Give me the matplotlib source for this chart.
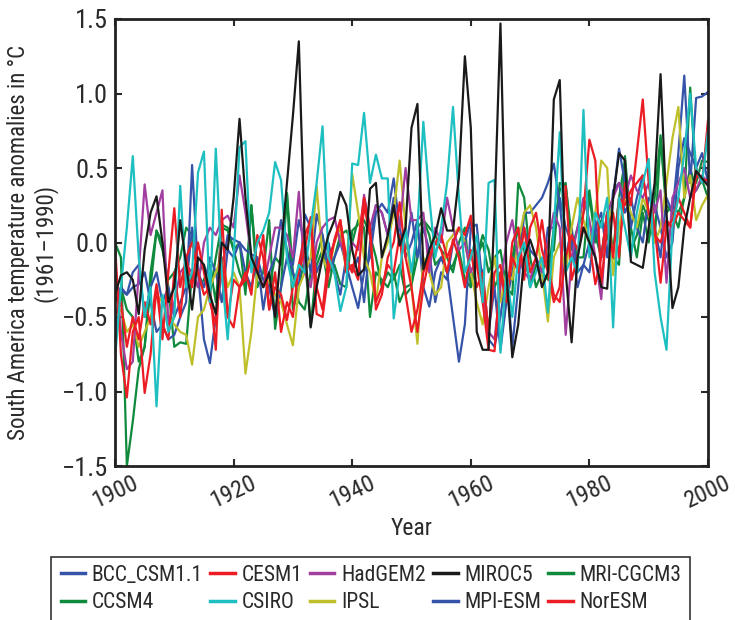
import matplotlib
matplotlib.use("Agg")
import matplotlib.pyplot as plt
from matplotlib.font_manager import fontManager
from matplotlib.patches import Rectangle

years = list(range(1900, 2001))

bcc_csm = [
    -0.30, -0.32, -0.35, -0.30, -0.28, -0.20, -0.40, -0.60, -0.55, -0.65,
    -0.62, -0.50, -0.40, 0.52, -0.20, -0.65, -0.81, -0.50, -0.20, 0.05,
    0.02, 0.00, -0.05, -0.08, -0.10, -0.25, -0.30, -0.50, -0.30, -0.10,
    -0.15, 0.15, 0.00, -0.20, 0.19, 0.05, -0.20, -0.10, 0.00, -0.15,
    -0.30, -0.44, -0.20, -0.10, 0.20, 0.26, 0.20, 0.43, 0.10, -0.10,
    0.00, 0.15, -0.30, -0.43, -0.20, -0.10, -0.20, -0.50, -0.80, -0.55,
    0.10, 0.12, -0.30, -0.65, -0.70, -0.50, -0.20, -0.70, -0.30, 0.20,
    0.20, 0.25, 0.30, 0.40, 0.53, 0.25, -0.10, 0.10, -0.20, -0.15,
    0.00, 0.15, -0.10, 0.20, 0.30, 0.63, 0.40, 0.10, 0.30, 0.45,
    0.20, 0.10, -0.10, 0.30, 0.20, 0.60, 1.12, 0.40, 0.97, 0.98, 1.01]

cesm1 = [
    0.00, -0.75, -1.04, -0.60, -0.50, -1.01, -0.75, -0.30, -0.65, -0.20,
    0.23, -0.30, -0.10, 0.00, -0.20, -0.35, -0.30, -0.72, 0.22, -0.50,
    -0.57, -0.30, -0.20, -0.35, 0.05, -0.10, -0.45, -0.20, -0.60, -0.40,
    -0.50, -0.15, 0.05, 0.15, -0.48, -0.50, -0.20, 0.02, 0.15, -0.10,
    -0.20, 0.00, 0.30, 0.10, -0.45, -0.35, -0.10, 0.00, 0.27, -0.10,
    -0.30, -0.60, -0.30, -0.10, 0.00, 0.05, -0.10, 0.00, 0.10, 0.05,
    0.18, -0.15, -0.40, -0.72, -0.73, -0.20, -0.40, 0.00, 0.10, -0.25,
    0.10, 0.20, -0.05, -0.20, -0.40, -0.30, 0.38, -0.25, -0.10, 0.20,
    0.69, 0.55, -0.28, 0.10, 0.20, -0.10, 0.40, 0.25, 0.60, 0.96,
    0.40, 0.10, -0.27, 0.10, 0.15, 0.30, 0.20, 0.10, 0.50, 0.40, 0.82]

hadgem2 = [
    -0.10, -0.60, -0.85, -0.80, -0.20, 0.39, 0.05, 0.20, 0.35, -0.55,
    -0.40, -0.20, -0.15, -0.20, -0.30, 0.00, 0.10, 0.05, 0.15, 0.18,
    0.10, 0.45, 0.20, -0.10, -0.20, -0.30, -0.10, 0.10, 0.10, 0.05,
    -0.10, 0.34, -0.20, -0.30, 0.00, 0.10, 0.15, 0.17, 0.00, -0.10,
    0.00, -0.05, 0.32, 0.10, 0.25, 0.20, 0.05, 0.25, 0.10, 0.50,
    0.15, 0.15, 0.20, -0.20, 0.10, 0.00, 0.30, 0.10, -0.05, 0.00,
    -0.20, -0.10, -0.30, -0.60, -0.65, -0.30, 0.00, 0.15, -0.10, -0.20,
    -0.25, -0.10, -0.20, 0.00, 0.20, 0.10, -0.62, -0.10, 0.10, 0.30,
    0.15, -0.10, -0.38, 0.20, 0.30, 0.40, 0.30, 0.45, 0.35, 0.30,
    0.40, 0.20, 0.35, -0.27, 0.30, 0.40, 0.50, 0.30, 0.35, 0.45, 0.40]

miroc5 = [
    -0.35, -0.22, -0.20, -0.25, -0.48, -0.05, 0.20, 0.31, 0.00, -0.40,
    -0.30, 0.15, -0.15, -0.45, -0.10, -0.15, -0.35, -0.48, 0.00, -0.05,
    0.30, 0.83, 0.30, -0.10, -0.20, -0.30, -0.20, -0.50, -0.05, 0.40,
    0.85, 1.35, 0.00, -0.57, -0.30, -0.10, 0.05, 0.15, 0.34, 0.25,
    -0.05, -0.22, -0.18, 0.36, 0.40, -0.10, 0.05, 0.25, -0.02, 0.10,
    0.77, 0.93, -0.18, -0.05, 0.05, 0.23, 0.08, 0.08, 0.44, 1.25,
    0.77, -0.60, -0.72, -0.72, 0.20, 1.47, -0.20, -0.77, -0.55, -0.10,
    0.02, -0.10, -0.30, -0.20, 0.96, 1.09, -0.20, -0.67, -0.10, 0.10,
    0.00, -0.10, -0.30, -0.31, 0.30, 0.60, 0.55, -0.13, -0.15, -0.17,
    0.10, 0.40, 1.13, 0.20, -0.44, -0.30, 0.10, 0.30, 0.48, 0.43, 0.38]

mri_cgcm3 = [
    -0.40, -0.30, -0.45, -0.50, -0.80, -0.70, -0.20, 0.08, -0.05, -0.25,
    -0.20, -0.10, 0.10, 0.05, -0.20, -0.15, -0.35, -0.10, 0.12, 0.10,
    -0.05, 0.00, -0.35, 0.25, -0.20, -0.25, -0.30, -0.10, -0.15, 0.33,
    -0.20, -0.40, -0.45, -0.20, -0.10, 0.05, -0.20, -0.15, -0.28, -0.30,
    0.08, 0.12, 0.15, 0.05, -0.10, -0.30, -0.20, -0.25, -0.15, -0.35,
    -0.30, 0.10, 0.15, 0.05, -0.15, -0.10, -0.20, -0.15, -0.05, -0.25,
    -0.30, -0.10, 0.00, -0.20, -0.10, -0.05, -0.30, -0.35, 0.40, 0.30,
    -0.10, -0.30, -0.20, -0.25, 0.10, 0.35, 0.40, -0.05, 0.10, 0.20,
    0.35, 0.05, -0.10, 0.20, -0.05, 0.30, 0.55, -0.05, 0.05, 0.25,
    0.15, 0.00, 0.70, 0.20, 0.25, 0.20, 0.30, 0.50, 0.35, 0.42, 0.30]

ccsm4 = [
    0.00, -0.10, -1.50, -1.20, -0.85, -0.70, -0.30, 0.08, 0.00, -0.30,
    -0.70, -0.67, -0.68, -0.20, -0.30, -0.25, -0.15, -0.40, 0.10, 0.08,
    -0.05, -0.20, -0.30, 0.25, -0.30, -0.20, 0.15, -0.58, -0.30, 0.33,
    -0.45, -0.30, -0.10, -0.56, -0.15, -0.05, -0.30, -0.10, 0.05, 0.08,
    0.00, 0.15, 0.10, -0.50, -0.20, -0.25, -0.30, -0.20, -0.40, -0.30,
    -0.28, -0.10, 0.15, 0.10, 0.05, -0.05, -0.10, -0.20, 0.00, 0.10,
    -0.30, -0.10, 0.05, -0.05, -0.30, -0.20, -0.35, -0.10, 0.10, -0.05,
    -0.30, -0.15, -0.20, -0.10, -0.05, 0.40, 0.38, 0.05, -0.10, -0.10,
    0.32, 0.00, 0.15, 0.05, -0.10, -0.15, 0.58, 0.10, -0.10, 0.20,
    0.00, 0.30, 0.72, 0.25, 0.20, 0.10, 0.30, 1.04, 0.40, 0.55, 0.54]

csiro = [
    -0.78, -0.30, 0.10, 0.58, -0.10, -0.50, -0.30, -1.10, -0.35, -0.60,
    -0.50, 0.38, -0.30, -0.20, 0.47, 0.61, -0.40, 0.63, -0.20, -0.65,
    -0.10, 0.64, 0.68, -0.20, 0.00, 0.08, 0.20, 0.54, 0.42, -0.10,
    -0.30, -0.15, -0.20, 0.10, 0.40, 0.78, -0.10, -0.20, -0.46, -0.30,
    0.53, 0.52, 0.87, 0.40, 0.59, 0.43, 0.43, -0.51, -0.20, 0.10,
    -0.20, 0.10, 0.81, 0.30, -0.10, 0.10, 0.40, 0.91, 0.30, -0.20,
    -0.10, 0.05, -0.40, 0.40, 0.42, -0.74, -0.20, -0.50, -0.10, 0.00,
    -0.30, -0.20, -0.10, -0.47, 0.10, 0.74, -0.20, -0.10, -0.20, 0.89,
    -0.10, 0.20, 0.10, 0.30, -0.57, 0.30, 0.10, -0.10, 0.20, 0.40,
    0.56, -0.20, -0.50, -0.72, 0.10, 0.30, 0.60, 1.00, 0.50, 0.40, 0.75]

ipsl = [
    -0.50, -0.45, -0.60, -0.55, -0.70, -0.60, -0.50, -0.35, -0.40, -0.50,
    -0.55, -0.60, -0.62, -0.82, -0.50, -0.45, -0.30, -0.20, -0.10, -0.30,
    -0.20, -0.30, -0.88, -0.60, -0.20, -0.30, -0.25, -0.35, -0.40, -0.55,
    -0.69, -0.30, -0.20, -0.10, 0.38, -0.10, -0.20, 0.00, 0.10, -0.20,
    0.46, 0.20, -0.10, -0.20, -0.40, -0.10, 0.00, 0.20, 0.55, 0.10,
    -0.30, -0.68, -0.10, -0.20, -0.35, -0.30, 0.00, 0.05, 0.10, 0.00,
    -0.20, -0.40, -0.55, -0.30, -0.10, -0.40, -0.20, -0.25, 0.00, 0.20,
    0.25, 0.10, -0.20, -0.53, -0.10, 0.00, -0.20, 0.10, 0.30, 0.15,
    0.00, 0.20, 0.55, 0.50, -0.22, 0.10, 0.30, 0.20, 0.10, 0.30,
    0.20, 0.00, 0.10, 0.40, 0.70, 0.91, 0.30, 0.45, 0.15, 0.25, 0.32]

mpi_esm = [
    -0.65, -0.30, -0.35, -0.20, -0.15, -0.50, -0.30, -0.20, -0.40, -0.30,
    -0.50, -0.40, -0.30, 0.10, -0.20, -0.30, -0.10, -0.20, -0.40, -0.05,
    -0.10, 0.00, -0.20, -0.30, -0.10, -0.45, -0.20, -0.10, 0.15, -0.05,
    -0.20, -0.30, 0.19, 0.10, -0.20, -0.10, 0.00, -0.20, -0.35, -0.10,
    -0.20, -0.10, -0.40, 0.00, 0.25, 0.20, 0.05, 0.30, 0.00, -0.05,
    0.20, -0.10, 0.10, -0.05, -0.40, -0.20, -0.25, 0.00, 0.10, 0.00,
    0.15, -0.10, -0.20, -0.60, -0.30, -0.72, -0.40, -0.20, 0.00, 0.10,
    -0.05, -0.10, -0.20, 0.10, 0.10, 0.30, 0.10, 0.00, -0.30, -0.15,
    -0.20, 0.10, 0.20, -0.10, 0.35, 0.40, 0.20, 0.30, 0.10, 0.00,
    0.30, 0.25, 0.10, -0.10, 0.00, 0.50, 0.70, 0.60, 0.50, 0.60, 0.40]

noresm = [
    -0.50, -0.40, -0.70, -0.50, -0.65, -0.40, -0.55, -0.28, -0.55, -0.65,
    -0.20, -0.50, -0.10, -0.30, 0.00, -0.20, -0.40, -0.55, -0.10, -0.50,
    -0.25, -0.30, -0.25, -0.10, -0.20, 0.05, -0.45, -0.30, -0.35, -0.52,
    -0.30, -0.20, -0.05, 0.17, -0.30, -0.45, -0.10, 0.00, 0.15, -0.20,
    -0.15, -0.25, 0.25, 0.05, -0.40, -0.30, -0.15, -0.20, 0.05, -0.35,
    -0.60, -0.45, -0.20, -0.10, 0.00, -0.05, -0.20, 0.02, -0.10, -0.30,
    -0.05, -0.30, -0.20, -0.60, -0.20, -0.15, -0.40, -0.10, -0.20, 0.10,
    -0.20, -0.10, 0.15, -0.15, -0.35, -0.40, -0.10, 0.05, -0.05, 0.10,
    0.00, -0.28, -0.10, 0.20, -0.10, 0.30, 0.25, 0.35, 0.40, 0.45,
    0.20, 0.05, 0.00, 0.15, 0.10, 0.20, 0.15, 0.10, 0.45, 0.42, 0.42]

model_names = ["BCC_CSM1.1", "CESM1", "HadGEM2", "MIROC5", "MRI-CGCM3",
               "CCSM4", "CSIRO", "IPSL", "MPI-ESM", "NorESM"]
model_values = [bcc_csm, cesm1, hadgem2, miroc5, mri_cgcm3,
                ccsm4, csiro, ipsl, mpi_esm, noresm]

BLUE = "#3553a8"
RED = "#ec1c24"
PURPLE = "#a23ea0"
BLACK = "#1a1a1a"
GREEN = "#0f8a3c"
CYAN = "#1dbfc0"
OLIVE = "#bfbf2a"
colors = [BLUE, RED, PURPLE, BLACK, GREEN, GREEN, CYAN, OLIVE, BLUE, RED]

avail = {f.name for f in fontManager.ttflist}
fam = "DejaVu Sans"
for cand in ["Liberation Sans Narrow", "Roboto Condensed", "Open Sans Condensed",
             "Liberation Sans", "Roboto"]:
    if cand in avail:
        fam = cand
        break
plt.rcParams["font.family"] = [fam, "DejaVu Sans"]
TXT = "#2a2a2a"

fig = plt.figure(figsize=(7.35, 6.2), dpi=100)
ax = fig.add_axes([115 / 735, 1 - 466 / 620, (708 - 115) / 735, (466 - 19) / 620])

draw_order = [5, 4, 8, 0, 7, 2, 9, 1, 6, 3]
lines = {}
for i in draw_order:
    ln, = ax.plot(years, model_values[i], color=colors[i], lw=1.6,
                  label=model_names[i])
    lines[i] = ln

ax.set_xlim(1900, 2000)
ax.set_ylim(-1.5, 1.5)
ax.set_xticks([1900, 1920, 1940, 1960, 1980, 2000])
ax.set_yticks([-1.5, -1.0, -0.5, 0.0, 0.5, 1.0, 1.5])
ax.set_yticklabels(["\u22121.5", "\u22121.0", "\u22120.5", "0.0", "0.5", "1.0", "1.5"])
ax.tick_params(direction="in", top=True, right=True, length=5, width=1.5,
               labelsize=19, colors=TXT, pad=5)
ax.tick_params(axis="x", labelsize=17.5, pad=4)
for lab in ax.get_xticklabels():
    lab.set_rotation(25)
    lab.set_ha("center")
for sp in ax.spines.values():
    sp.set_linewidth(2)
    sp.set_color("#222222")

ax.set_xlabel("Year", fontsize=17, labelpad=3, color=TXT)
ax.set_ylabel("South America temperature anomalies in \u00b0C\n(1961\u20131990)",
              fontsize=16.5, color=TXT, labelpad=3, linespacing=1.12)

order = [0, 5, 1, 6, 2, 7, 3, 8, 4, 9]
handles = [lines[i] for i in order]
labels = [model_names[i] for i in order]
leg = fig.legend(handles, labels, ncol=5, loc="upper left",
                 bbox_to_anchor=(53 / 735, 1 - 557 / 620, 636 / 735, 0.0),
                 mode="expand",
                 fontsize=15.5, frameon=False,
                 handlelength=1.15, handletextpad=0.3,
                 columnspacing=0.3, borderpad=0.35, labelspacing=0.32,
                 borderaxespad=0.0)
for t in leg.get_texts():
    t.set_color(TXT)
for l in leg.get_lines():
    l.set_linewidth(2.5)

fig.patches.append(Rectangle((51 / 735, -0.05), 639 / 735, (1 - 557 / 620) + 0.05,
                             transform=fig.transFigure, fill=False,
                             lw=1.2, ec="#333333"))

fig.savefig("out.png", dpi=100)
